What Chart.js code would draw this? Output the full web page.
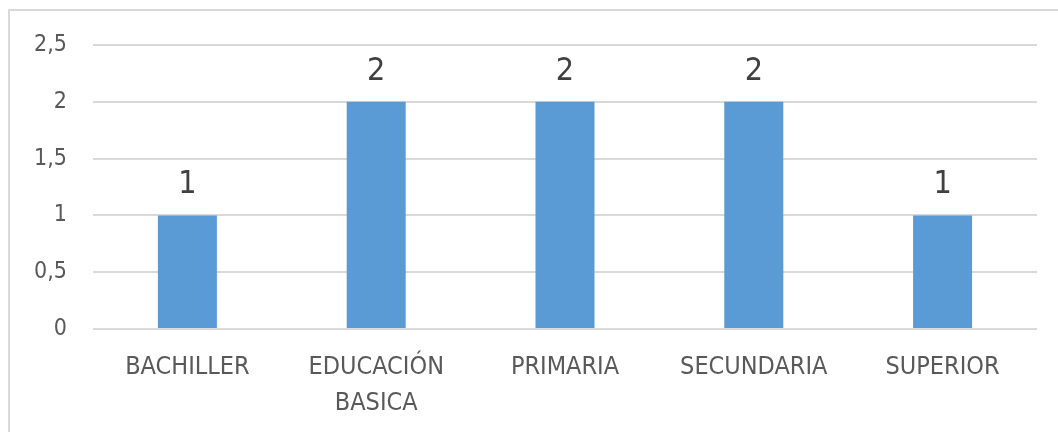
<!DOCTYPE html>
<html>
<head>
<meta charset="utf-8">
<script src="https://cdn.jsdelivr.net/npm/chart.js@4/dist/chart.umd.min.js"></script>
<style>
    body { margin: 0; background: #fff; overflow: hidden; }
    #frame {
        position: absolute; left: 8px; top: 9px;
        width: 1100px; height: 480px;
        border: 2px solid #d9d9d9;
    }
    #myChart { position: absolute; left: 0; top: 0; }
</style>
</head>
<body>
<div id="frame"></div>
<canvas id="myChart" width="1058" height="432"></canvas>
<script>
// chart data
const categories = ["BACHILLER", ["EDUCACIÓN", "BASICA"], "PRIMARIA", "SECUNDARIA", "SUPERIOR"];
const counts = [1, 2, 2, 2, 1];
const yTicks = [0, 0.5, 1, 1.5, 2, 2.5];

const fontFamily = "'Liberation Sans Narrow', 'DejaVu Sans Condensed', 'Liberation Sans', sans-serif";

// draws the value above every bar, like the excel data labels
const valueLabels = {
    id: "valueLabels",
    afterDatasetsDraw(chart) {
        const ctx = chart.ctx;
        const meta = chart.getDatasetMeta(0);
        ctx.save();
        ctx.font = `32px ${fontFamily}`;
        ctx.fillStyle = "#404040";
        ctx.textAlign = "center";
        ctx.textBaseline = "alphabetic";
        meta.data.forEach((bar, i) => {
            ctx.fillText(String(chart.data.datasets[0].data[i]), bar.x, bar.y - 22);
        });
        ctx.restore();
    }
};

function init() {
    const canvas = document.getElementById("myChart");

    new Chart(canvas, {
        type: "bar",
        data: {
            labels: categories,
            datasets: [{
                data: counts,
                backgroundColor: "#5b9bd5",
                borderWidth: 0,
                barPercentage: 0.3125,
                categoryPercentage: 1
            }]
        },
        options: {
            responsive: false,
            animation: false,
            layout: { padding: { top: 45, right: 21, bottom: 0, left: 0 } },
            plugins: {
                legend: { display: false },
                tooltip: { enabled: false }
            },
            scales: {
                x: {
                    grid: { display: false, drawTicks: false },
                    border: { display: false },
                    ticks: {
                        color: "#595959",
                        padding: 20,
                        maxRotation: 0,
                        autoSkip: false,
                        font: { family: fontFamily, size: 25, lineHeight: 1.45 }
                    },
                    afterFit: (scale) => { scale.height = 103; }
                },
                y: {
                    min: yTicks[0],
                    max: yTicks[yTicks.length - 1],
                    afterBuildTicks: (scale) => { scale.ticks = yTicks.map(v => ({ value: v })); },
                    grid: { color: "#d9d9d9", lineWidth: 2, drawTicks: false },
                    border: { display: false },
                    ticks: {
                        color: "#595959",
                        padding: 26,
                        font: { family: fontFamily, size: 23 },
                        callback: (v) => String(v).replace(".", ",")
                    },
                    afterFit: (scale) => { scale.width = 93; }
                }
            }
        },
        plugins: [valueLabels]
    });
}

document.addEventListener("DOMContentLoaded", init);
</script>
</body>
</html>
